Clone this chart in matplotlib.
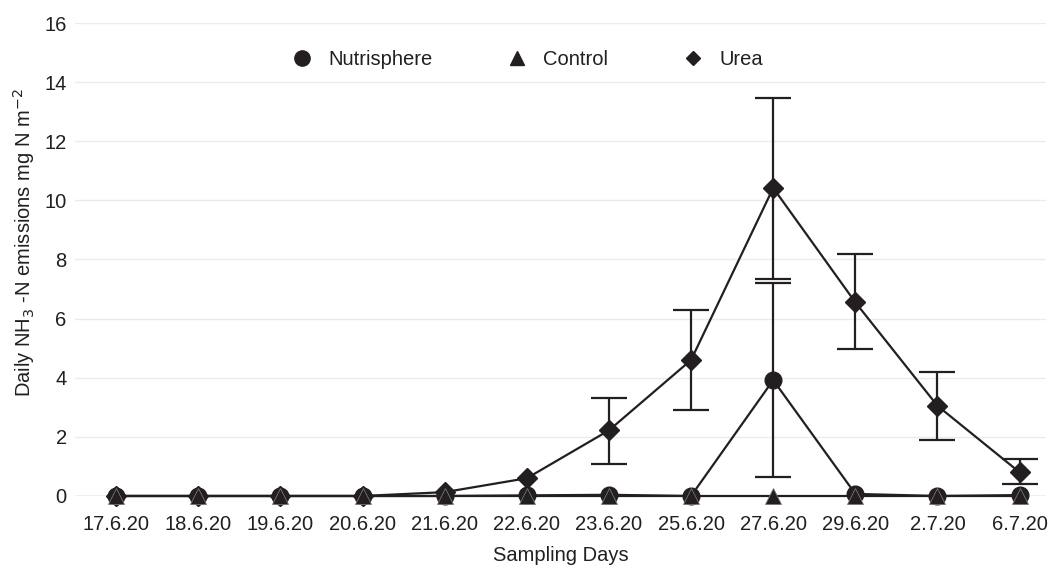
import matplotlib
matplotlib.use("Agg")
import matplotlib.pyplot as plt
import numpy as np
from matplotlib.lines import Line2D

plt.rcParams['font.family'] = ['Liberation Sans', 'DejaVu Sans']

days = ["17.6.20", "18.6.20", "19.6.20", "20.6.20", "21.6.20", "22.6.20",
        "23.6.20", "25.6.20", "27.6.20", "29.6.20", "2.7.20", "6.7.20"]

urea = [0, 0, 0, 0, 0.13, 0.6, 2.22, 4.6, 10.42, 6.55, 3.05, 0.8]
urea_hi = [None, None, None, None, None, None, 3.33, 6.3, 13.45, 8.17, 4.2, 1.25]
urea_lo = [None, None, None, None, None, None, 1.08, 2.9, 7.35, 4.97, 1.9, 0.4]

nutri = [0, 0, 0, 0, 0, 0.02, 0.04, 0, 3.92, 0.07, 0, 0.03]
nutri_hi = [None, None, None, None, None, None, None, None, 7.2, None, None, None]
nutri_lo = [None, None, None, None, None, None, None, None, 0.65, None, None, None]

control = [0, 0, 0, 0, 0, 0, 0, 0, 0, 0, 0, 0]

col = '#231f20'
fs = 14.5
fig = plt.figure(figsize=(10.48, 5.68), dpi=100)
ax = fig.add_axes([0.0716, 0.1268, 0.9264, 0.8327])
x = np.arange(len(days))

for v in range(2, 17, 2):
    ax.axhline(v, color='#ebebeb', lw=1, zorder=0)
ax.axhline(0, color='#b0b0b0', lw=1, zorder=1)

def errs(vals, hi, lo):
    xs, ys, yl, yh = [], [], [], []
    for i, (v, h, l) in enumerate(zip(vals, hi, lo)):
        if h is not None:
            xs.append(i); ys.append(v); yl.append(v - l); yh.append(h - v)
    return xs, ys, [yl, yh]

for vals, hi, lo in [(urea, urea_hi, urea_lo), (nutri, nutri_hi, nutri_lo)]:
    xs, ys, e = errs(vals, hi, lo)
    ax.errorbar(xs, ys, yerr=e, fmt='none', ecolor=col, elinewidth=1.6,
                capsize=13, capthick=1.6, zorder=2, clip_on=False)

ax.plot(x, urea, color=col, lw=1.6, marker='D', ms=10, zorder=3, clip_on=False)
ax.plot(x, nutri, color=col, lw=1.6, marker='o', ms=12, zorder=4, clip_on=False)
ax.plot(x, control, color=col, lw=1.6, marker='^', ms=12, mec='#777777', mew=0.6,
        zorder=5, clip_on=False)

ax.set_xlim(-0.5, 11.32)
ax.set_ylim(0, 16)
ax.set_yticks(range(0, 17, 2))
ax.set_xticks(x)
ax.set_xticklabels(days)
ax.tick_params(axis='both', length=0, labelsize=fs, colors=col)
ax.tick_params(axis='x', pad=14)
ax.tick_params(axis='y', pad=6)
for s in ax.spines.values():
    s.set_visible(False)

ax.set_xlabel("Sampling Days", fontsize=fs, color=col, labelpad=8)
ax.set_ylabel("Daily NH$_3$ -N emissions mg N m$^{-2}$", fontsize=fs, color=col)
ax.yaxis.set_label_coords(-0.039, 0.535)

handles = [Line2D([], [], color=col, marker='o', ls='none', ms=11),
           Line2D([], [], color=col, marker='^', ls='none', ms=10),
           Line2D([], [], color=col, marker='D', ls='none', ms=7)]
leg = ax.legend(handles, ['Nutrisphere', 'Control', 'Urea'], loc='upper center',
                bbox_to_anchor=(0.464, 0.982), ncol=3, frameon=False, fontsize=fs,
                columnspacing=3.5, handletextpad=0.6, handlelength=1.4)
for t in leg.get_texts():
    t.set_color(col)

fig.savefig("out.png", dpi=100)
